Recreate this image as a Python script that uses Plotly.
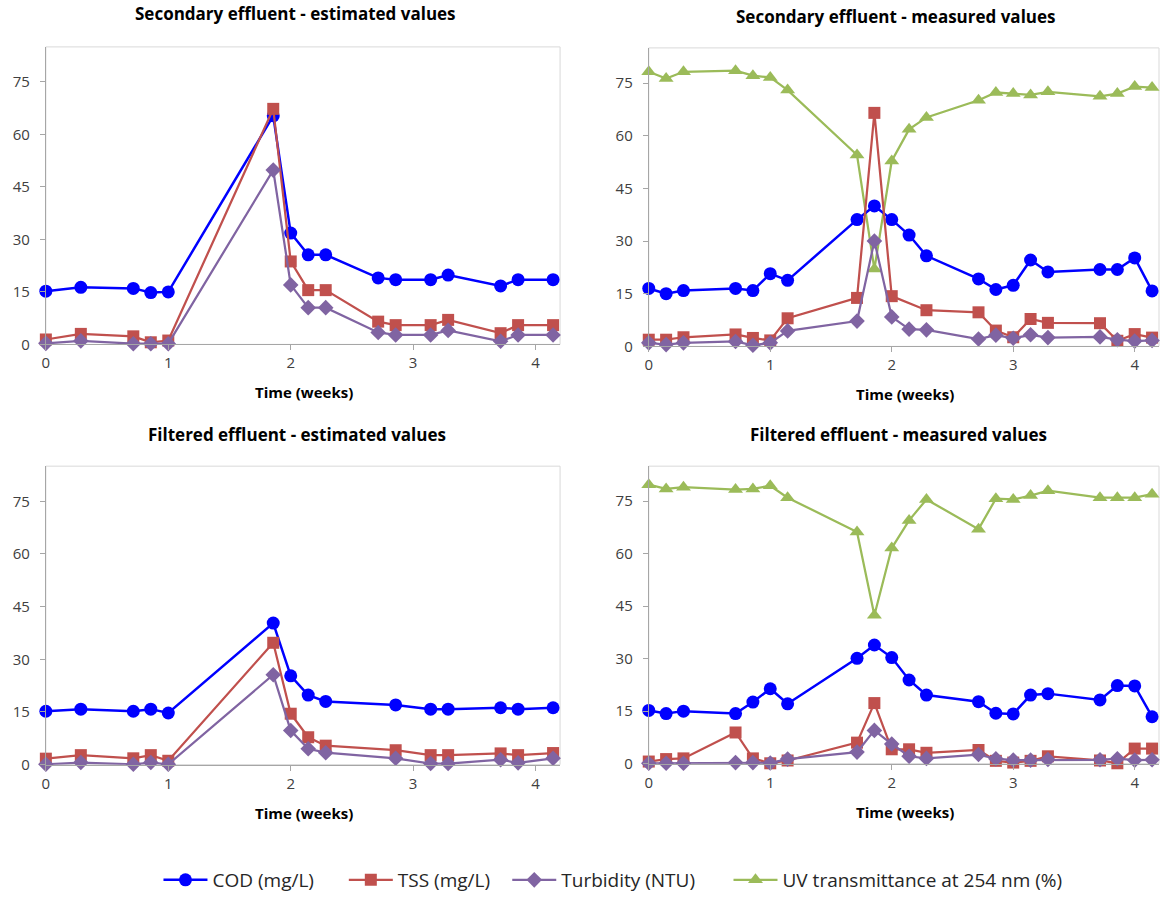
import plotly.graph_objects as go

# ---------------- data (time in days; plotted in weeks) ----------------
days_est = [0, 2, 5, 6, 7, 13, 14, 15, 16, 19, 20, 22, 23, 26, 27, 29]
days_meas = [0, 1, 2, 5, 6, 7, 8, 12, 13, 14, 15, 16, 19, 20, 21, 22, 23, 26, 27, 28, 29]
days_filt_est = [0, 2, 5, 6, 7, 13, 14, 15, 16, 20, 22, 23, 26, 27, 29]

# Secondary effluent - estimated values
sec_est_cod = [15.2, 16.3, 16.0, 14.8, 15.0, 65.3, 31.8, 25.6, 25.6, 19.0, 18.5, 18.5, 19.8, 16.7, 18.5, 18.5]
sec_est_tss = [1.4, 3.0, 2.3, 0.6, 1.1, 67.3, 23.7, 15.5, 15.5, 6.5, 5.5, 5.5, 7.0, 3.2, 5.5, 5.5]
sec_est_turb = [0.3, 1.0, 0.2, 0.2, 0.2, 49.8, 17.0, 10.5, 10.5, 3.4, 2.7, 2.7, 4.0, 0.9, 2.7, 2.7]

# Secondary effluent - measured values
sec_meas_cod = [16.5, 15.0, 15.9, 16.5, 15.9, 20.7, 18.8, 36.1, 40.0, 36.1, 31.7, 25.8, 19.2, 16.2, 17.4, 24.6, 21.2, 21.9, 21.9, 25.2, 15.8]
sec_meas_tss = [1.9, 1.9, 2.6, 3.4, 2.4, 1.7, 8.0, 13.8, 66.5, 14.3, None, 10.3, 9.7, 4.5, 2.6, 7.8, 6.7, 6.6, 1.6, 3.5, 2.5]
sec_meas_turb = [1.0, 0.5, 1.0, 1.4, 0.3, 1.0, 4.4, 7.2, 30.0, 8.4, 4.9, 4.7, 2.1, 3.2, 2.3, 3.3, 2.5, 2.7, 1.9, 1.5, 1.7]
sec_meas_uv = [78.2, 76.3, 78.2, 78.5, 77.1, 76.6, 73.0, 54.5, 22.0, 52.8, 61.8, 65.2, 70.1, 72.3, 72.0, 71.6, 72.5, 71.2, 72.0, 74.0, 73.7]

# Filtered effluent - estimated values
filt_est_cod = [15.2, 15.8, 15.2, 15.8, 14.7, 40.3, 25.3, 19.8, 18.0, 17.0, 15.8, 15.8, 16.2, 15.8, 16.2]
filt_est_tss = [1.7, 2.7, 1.8, 2.7, 1.1, 34.7, 14.5, 7.8, 5.4, 4.1, 2.7, 2.7, 3.2, 2.7, 3.3]
filt_est_turb = [0.1, 0.6, 0.1, 0.6, 0.1, 25.6, 9.7, 4.5, 3.4, 1.8, 0.3, 0.3, 1.4, 0.5, 1.8]

# Filtered effluent - measured values
filt_meas_cod = [15.2, 14.3, 15.0, 14.3, 17.6, 21.4, 17.1, 30.1, 33.9, 30.3, 23.9, 19.6, 17.7, 14.4, 14.2, 19.6, 20.0, 18.2, 22.3, 22.2, 13.4]
filt_meas_tss = [0.6, 1.3, 1.5, 8.9, 1.5, 0.1, 0.9, 6.0, 17.3, 4.1, 4.1, 3.1, 3.9, 0.8, 0.3, 0.8, 2.1, 0.9, 0.1, 4.3, 4.3]
filt_meas_turb = [0.1, 0.1, 0.1, 0.3, 0.3, 0.2, 1.3, 3.3, 9.5, 5.6, 2.1, 1.5, 2.6, 1.4, 1.0, 1.0, 1.2, 1.1, 1.4, 1.0, 1.1]
filt_meas_uv = [79.7, 78.5, 79.0, 78.3, 78.5, 79.4, 76.0, 66.2, 42.4, 61.6, 69.5, 75.5, 67.0, 75.7, 75.5, 76.6, 78.0, 76.0, 76.0, 76.0, 77.0]

series_names = ["COD (mg/L)", "TSS (mg/L)", "Turbidity (NTU)", "UV transmittance at 254 nm (%)"]
panel_titles = ["Secondary effluent - estimated values", "Secondary effluent - measured values",
                "Filtered effluent - estimated values", "Filtered effluent - measured values"]
x_title = "Time (weeks)"
y_ticks = [0, 15, 30, 45, 60, 75]
x_ticks = [0, 1, 2, 3, 4]

# ---------------- styles ----------------
colors = ["#0000FF", "#C0504D", "#8064A2", "#9BBB59"]
symbols = ["circle", "square", "diamond", "triangle-up"]
msizes = [13, 12, 12, 13]
lwidths = [2.5, 2.25, 2.25, 2.25]
FONT = "'Open Sans', Lato, sans-serif"

W, H = 1160, 899
YS = 1.014
def px_x(v): return v / W
def px_y(v): return 1 - (v * YS) / H

# (x_left, x_right, y_top, y_bottom) in pixels
boxes = [(42, 558, 47, 345), (647, 1159, 48, 347), (42, 558, 467, 766), (647, 1159, 467, 765)]

panels = [
    (days_est, [sec_est_cod, sec_est_tss, sec_est_turb, None]),
    (days_meas, [sec_meas_cod, sec_meas_tss, sec_meas_turb, sec_meas_uv]),
    (days_filt_est, [filt_est_cod, filt_est_tss, filt_est_turb, None]),
    (days_meas, [filt_meas_cod, filt_meas_tss, filt_meas_turb, filt_meas_uv]),
]
legend_ids = ["legend", "legend2", "legend3", "legend4"]
legend_text_x = [212, 398, 562, 784]

fig = go.Figure()
for p, (days, ser) in enumerate(panels):
    weeks = [d / 7 for d in days]
    ax = "" if p == 0 else str(p + 1)
    order = [3, 0, 1, 2]  # UV drawn underneath
    for k in order:
        vals = ser[k]
        if vals is None:
            continue
        fig.add_trace(go.Scatter(
            x=weeks, y=vals, mode="lines+markers", name=series_names[k],
            line=dict(color=colors[k], width=lwidths[k]),
            marker=dict(symbol=symbols[k], size=msizes[k], color=colors[k]),
            connectgaps=True, cliponaxis=False,
            showlegend=(p == 1), legend=legend_ids[k],
            xaxis="x" + ax, yaxis="y" + ax,
        ))

layout = dict(
    width=W, height=H, margin=dict(l=0, r=0, t=0, b=0),
    paper_bgcolor="white", plot_bgcolor="white",
    font=dict(family=FONT, color="#404040"),
    annotations=[], shapes=[],
)
for k, lid in enumerate(legend_ids):
    layout[lid] = dict(orientation="h", x=px_x(legend_text_x[k] - 57), xanchor="left",
                       y=px_y(882), yanchor="middle", itemwidth=44,
                       font=dict(size=19, color="#262626", family=FONT),
                       bgcolor="rgba(0,0,0,0)")

title_pos = [(293, 14), (895, 17), (294, 435), (898, 435)]
xt_pos = [(301, 393), (904, 395), (301, 814), (904, 813)]

for p, (xl, xr, yt, yb) in enumerate(boxes):
    ax = "" if p == 0 else str(p + 1)
    layout["xaxis" + ax] = dict(
        domain=[px_x(xl), px_x(xr)], range=[0, 4.2], anchor="y" + ax,
        tickvals=x_ticks, ticks="outside", ticklen=5, tickcolor="#a6a6a6",
        showline=True, linecolor="#a6a6a6", linewidth=1, showgrid=False, zeroline=False,
        tickfont=dict(size=15, color="#404040", family=FONT),
    )
    layout["yaxis" + ax] = dict(
        domain=[px_y(yb), px_y(yt)], range=[0, 85], anchor="x" + ax,
        tickvals=y_ticks, ticks="outside", ticklen=5, tickcolor="#a6a6a6",
        ticklabelstandoff=7,
        showline=True, linecolor="#a6a6a6", linewidth=1, showgrid=False, zeroline=False,
        tickfont=dict(size=15, color="#404040", family=FONT),
    )
    layout["shapes"].append(dict(type="rect", xref="paper", yref="paper",
                                 x0=px_x(xl), x1=px_x(xr), y0=px_y(yb), y1=px_y(yt),
                                 line=dict(color="#d9d9d9", width=1), layer="below"))
    tx, ty = title_pos[p]
    layout["annotations"].append(dict(text="<b>" + panel_titles[p] + "</b>", x=px_x(tx), y=px_y(ty),
                                      xref="paper", yref="paper", showarrow=False,
                                      xanchor="center", yanchor="middle",
                                      font=dict(size=17, color="#000000", family=FONT)))
    ax_x, ax_y = xt_pos[p]
    layout["annotations"].append(dict(text="<b>" + x_title + "</b>", x=px_x(ax_x), y=px_y(ax_y),
                                      xref="paper", yref="paper", showarrow=False,
                                      xanchor="center", yanchor="middle",
                                      font=dict(size=15, color="#000000", family=FONT)))

fig.update_layout(**layout)
fig.write_html("out.html", config={"displayModeBar": False},
               post_script="document.body.style.margin='0px';document.body.style.overflow='hidden';")
